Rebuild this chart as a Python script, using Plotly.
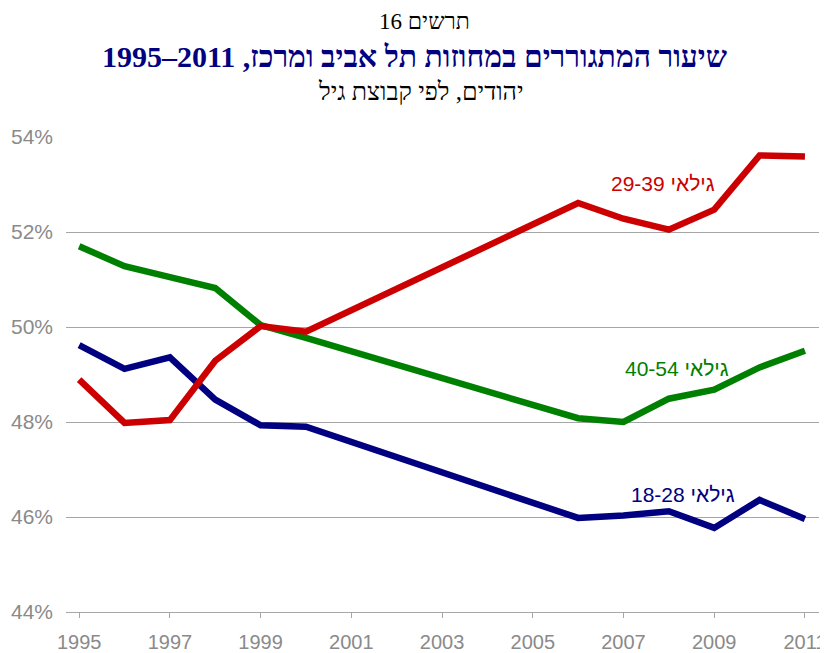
import plotly.graph_objects as go

years = [1995, 1996, 1997, 1998, 1999, 2000, 2006, 2007, 2008, 2009, 2010, 2011]
age_18_28 = [49.62, 49.12, 49.36, 48.47, 47.93, 47.90, 45.98, 46.03, 46.12, 45.77, 46.36, 45.96]
age_29_39 = [48.89, 47.98, 48.04, 49.29, 50.02, 49.90, 52.61, 52.28, 52.05, 52.47, 53.61, 53.59]
age_40_54 = [51.70, 51.28, 51.05, 50.82, 50.04, 49.77, 48.08, 48.00, 48.49, 48.68, 49.15, 49.50]

label_18_28 = "גילאי 18-28"
label_29_39 = "גילאי 29-39"
label_40_54 = "גילאי 40-54"

title1 = "תרשים 16"
title2 = "שיעור המתגוררים במחוזות תל אביב ומרכז, 2011–1995"
title3 = "יהודים, לפי קבוצת גיל"

y_ticks = [44, 46, 48, 50, 52, 54]
y_tick_text = [f"{v}%" for v in y_ticks]

RED = "#CC0000"
GREEN = "#008000"
NAVY = "#000080"
GRID = "#A6A6A6"
TICKC = "#8A8A8A"

fig = go.Figure()
series = [
    (age_40_54, GREEN, label_40_54),
    (age_18_28, NAVY, label_18_28),
    (age_29_39, RED, label_29_39),
]
for vals, col, name in series:
    fig.add_trace(go.Scatter(x=years, y=vals, mode="lines", name=name,
                             line=dict(color=col, width=6.5), showlegend=False,
                             hoverinfo="skip"))

label_font = dict(family="Liberation Sans, Arial, sans-serif", size=21)
fig.add_annotation(x=2007.87, y=53.02, text=label_29_39, showarrow=False,
                   font=dict(label_font, color=RED))
fig.add_annotation(x=2008.18, y=49.13, text=label_40_54, showarrow=False,
                   font=dict(label_font, color=GREEN))
fig.add_annotation(x=2008.31, y=46.48, text=label_18_28, showarrow=False,
                   font=dict(label_font, color=NAVY))

# page body has an 8px margin, so the figure is drawn 8px in from the window edge
OFF = 8
W, H = 828 - OFF, 653 - OFF
L, T = 66 - OFF, 137 - OFF
R_ = W - (819 - OFF)
B = H - (612 - OFF)
pw = W - L - R_
ph = H - T - B

def px(xp):
    return (xp - OFF - L) / pw

def py(yp):
    return (H - B - (yp - OFF)) / ph

serif = "Liberation Serif, Times New Roman, serif"
fig.add_annotation(xref="paper", yref="paper", x=px(424), y=py(22), text=title1,
                   showarrow=False, font=dict(family=serif, size=23, color="black"),
                   xanchor="center", yanchor="middle", borderpad=0)
fig.add_annotation(xref="paper", yref="paper", x=px(414), y=py(57), text="<b>" + title2 + "</b>",
                   showarrow=False, font=dict(family=serif, size=30, color=NAVY),
                   xanchor="center", yanchor="middle", borderpad=0)
fig.add_annotation(xref="paper", yref="paper", x=px(421), y=py(91), text=title3,
                   showarrow=False, font=dict(family=serif, size=25, color="black"),
                   xanchor="center", yanchor="middle", borderpad=0)

fig.update_layout(
    width=W, height=H, autosize=False,
    margin=dict(l=L, r=R_, t=T, b=B, pad=0, autoexpand=False),
    paper_bgcolor="white", plot_bgcolor="white",
    font=dict(family="Liberation Sans, Arial, sans-serif"),
    xaxis=dict(range=[1994.71, 2011.31], tick0=1995, dtick=2, showgrid=False,
               showline=True, linecolor=GRID, linewidth=1,
               ticks="outside", ticklen=5, tickcolor=GRID,
               tickfont=dict(size=20, color=TICKC), zeroline=False,
               ticklabelstandoff=7, automargin=False),
    yaxis=dict(range=[44, 54], tickmode="array", tickvals=y_ticks, ticktext=y_tick_text,
               showgrid=True, gridcolor=GRID, gridwidth=1, zeroline=False,
               showline=False, tickfont=dict(size=21, color=TICKC),
               ticklabelstandoff=12, automargin=False),
)

fig.write_html("out.html")
